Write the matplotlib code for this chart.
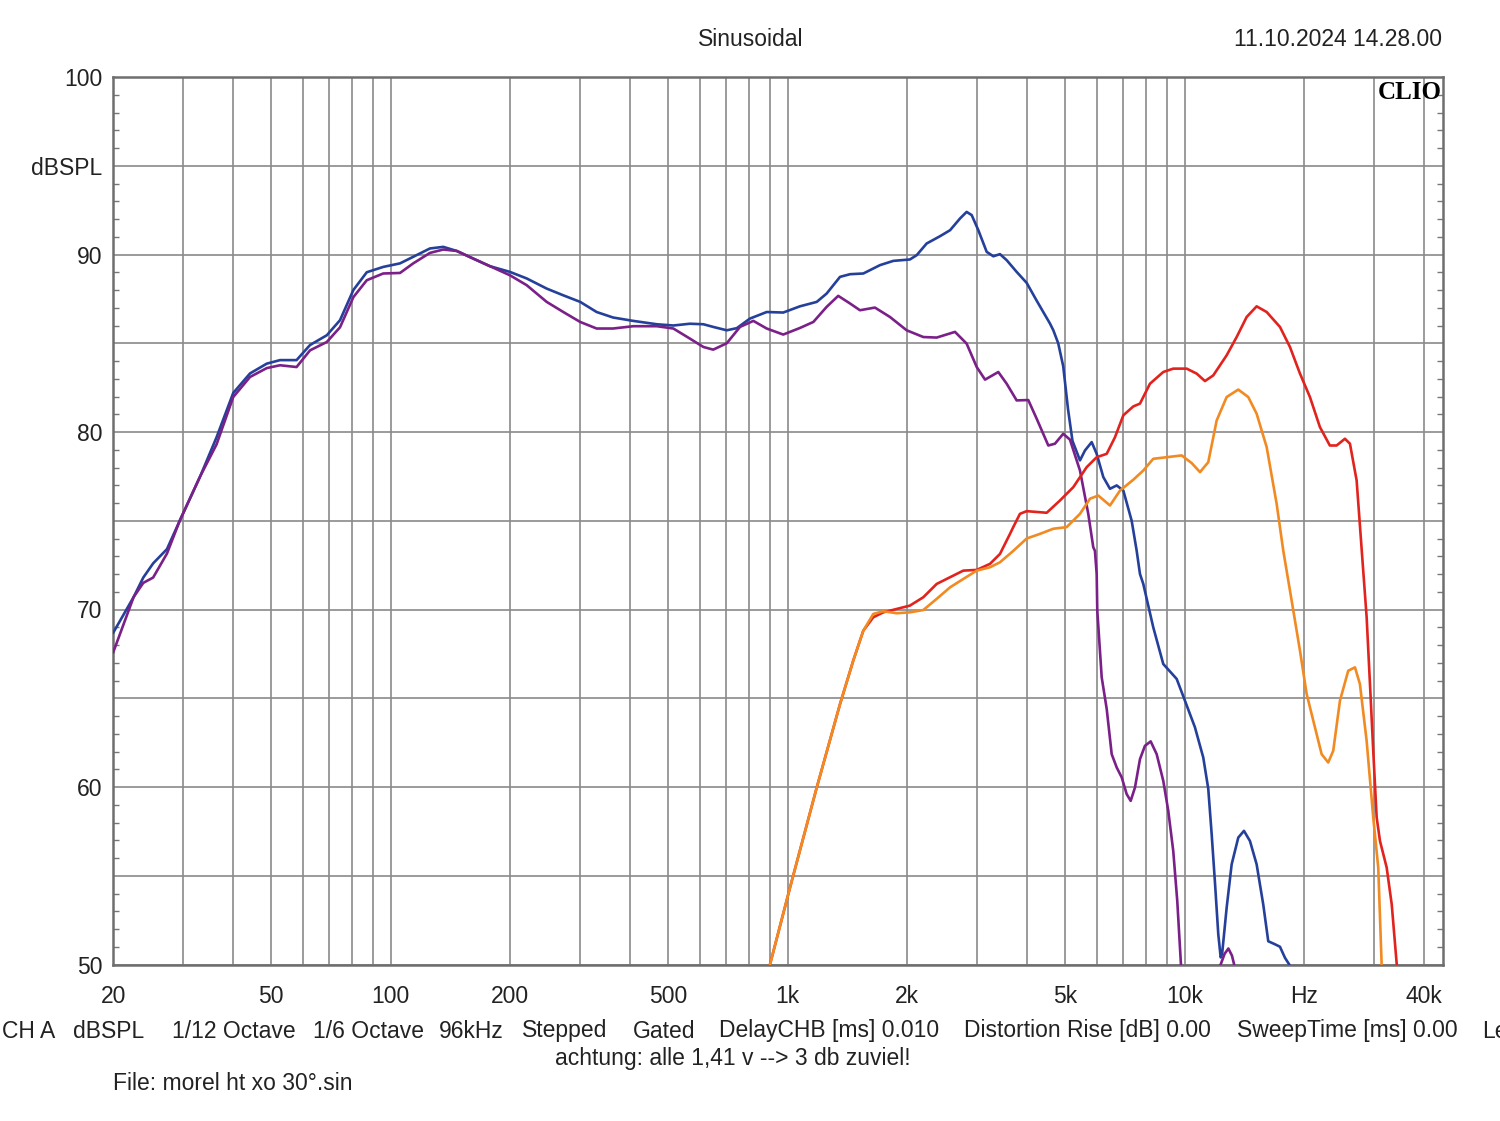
import matplotlib
matplotlib.use("Agg")
import matplotlib.pyplot as plt
from matplotlib.ticker import FixedLocator, FixedFormatter

plt.rcParams['font.family'] = ['Liberation Sans', 'DejaVu Sans']

# ---------------- data ----------------
blue_f = [20, 22.5, 23.8, 25.2, 27.3, 29.4, 33.1, 36.4, 40.1, 44.2, 48.7, 52.6, 57.9, 62.6, 69.0,
          74.5, 80.5, 87.0, 95.7, 105.5, 113.9, 125.5, 135.6, 146.6, 161.3, 177.8, 199.6, 220,
          247, 272, 300, 330, 363, 408, 468, 515, 567, 613, 649, 702, 744, 803, 885, 974, 1073,
          1183, 1253, 1354, 1435, 1550, 1707, 1844, 2031, 2112, 2238, 2418, 2564, 2716, 2822,
          2906, 3020, 3170, 3294, 3424, 3560, 3772, 3998, 4236, 4576, 4666, 4800, 4942, 5080,
          5214, 5446, 5606, 5829, 6000, 6235, 6481, 6739, 7003, 7350, 7565, 7713, 7862, 8330,
          8828, 9542, 10012, 10610, 11134, 11461, 11690, 11917, 12147, 12318, 12420, 12751,
          13126, 13640, 14098, 14596, 15174, 15766, 16231, 16874, 17371, 17882, 18332, 19000]
blue_db = [68.7, 70.7, 71.8, 72.6, 73.4, 75.0, 77.5, 79.7, 82.2, 83.3, 83.85, 84.05, 84.05, 84.9,
           85.45, 86.3, 88.0, 89.0, 89.3, 89.5, 89.87, 90.34, 90.43, 90.2, 89.77, 89.34, 89.02,
           88.65, 88.08, 87.7, 87.33, 86.76, 86.45, 86.26, 86.07, 86.0, 86.1, 86.07, 85.92, 85.73,
           85.85, 86.39, 86.76, 86.73, 87.08, 87.33, 87.8, 88.74, 88.89, 88.93, 89.4, 89.64,
           89.72, 89.96, 90.62, 91.03, 91.37, 92.03, 92.4, 92.22, 91.37, 90.15, 89.9, 90.02,
           89.68, 89.02, 88.4, 87.4, 86.11, 85.73, 85.0, 83.7, 81.3, 79.5, 78.4, 78.96, 79.43,
           78.77, 77.46, 76.8, 76.99, 76.7, 75.0, 73.32, 72.0, 71.44, 69.0, 66.93, 66.09, 64.86,
           63.36, 61.66, 59.9, 57.34, 54.6, 51.7, 50.4, 50.6, 53.2, 55.64, 57.15, 57.53, 56.96,
           55.64, 53.38, 51.31, 51.14, 51.0, 50.38, 50.0, 48.0]

purple_f = [20, 22.5, 23.8, 25.2, 27.3, 29.4, 33.1, 36.4, 40.1, 44.2, 48.7, 52.6, 57.9, 62.6, 69.0,
            74.5, 80.5, 87.0, 95.7, 105.5, 113.9, 125.5, 135.6, 146.6, 161.3, 177.8, 199.6, 220,
            247, 272, 300, 330, 363, 408, 468, 515, 567, 613, 649, 702, 758, 819, 885, 974, 1073,
            1160, 1253, 1340, 1435, 1520, 1658, 1809, 1993, 2195, 2372, 2638, 2822, 2992, 3140,
            3391, 3560, 3772, 4035, 4236, 4532, 4710, 4942, 5138, 5446, 5714, 5882, 5940, 6000,
            6021, 6177, 6359, 6546, 6739, 6938, 7140, 7308, 7492, 7713, 7938, 8207, 8497, 8828,
            9088, 9354, 9575, 9782, 10300, 12000, 12268, 12600, 12880, 13150, 13350, 14000]
purple_db = [67.6, 70.7, 71.5, 71.8, 73.15, 75.0, 77.5, 79.3, 81.97, 83.1, 83.6, 83.76, 83.66,
             84.6, 85.07, 85.9, 87.6, 88.55, 88.93, 88.96, 89.5, 90.09, 90.28, 90.2, 89.77, 89.34,
             88.83, 88.27, 87.33, 86.76, 86.2, 85.83, 85.83, 85.96, 85.96, 85.83, 85.26, 84.79,
             84.64, 85.0, 85.92, 86.26, 85.83, 85.49, 85.86, 86.2, 87.05, 87.67, 87.24, 86.86,
             87.01, 86.48, 85.73, 85.35, 85.32, 85.64, 84.98, 83.66, 82.95, 83.38, 82.72, 81.78,
             81.8, 80.75, 79.24, 79.34, 79.9, 79.57, 77.83, 75.39, 73.51, 73.3, 72.0, 69.94, 66.18,
             64.4, 61.85, 61.1, 60.54, 59.6, 59.22, 59.97, 61.57, 62.32, 62.57, 61.85, 60.35, 58.66,
             56.4, 53.58, 50.0, 45.0, 45.0, 49.9, 50.6, 50.9, 50.5, 49.9, 45.0]

red_f = [902, 1013, 1183, 1354, 1462, 1550, 1642, 1740, 1881, 2031, 2195, 2372, 2564, 2768, 2992,
         3231, 3424, 3629, 3698, 3845, 3998, 4490, 4849, 5238, 5662, 6000, 6359, 6673, 7003,
         7419, 7713, 8173, 8828, 9354, 10111, 10716, 11244, 11799, 12751, 13512, 14320, 15174,
         16082, 17371, 18408, 19510, 20670, 21900, 23200, 24130, 25320, 26070, 27100, 27900,
         28720, 29280, 29840, 30440, 31030, 32260, 33220, 34200]
red_db = [50.0, 54.33, 59.97, 64.67, 67.12, 68.81, 69.56, 69.84, 70.03, 70.22, 70.69, 71.44, 71.82,
          72.19, 72.23, 72.57, 73.13, 74.26, 74.64, 75.39, 75.54, 75.45, 76.14, 76.89, 78.02,
          78.58, 78.77, 79.71, 80.94, 81.44, 81.6, 82.72, 83.38, 83.57, 83.57, 83.29, 82.87,
          83.19, 84.32, 85.35, 86.48, 87.08, 86.76, 85.92, 84.79, 83.29, 81.97, 80.28, 79.24,
          79.24, 79.62, 79.34, 77.27, 73.4, 69.56, 65.8, 62.04, 58.28, 56.96, 55.46, 53.38, 50.0]

orange_f = [902, 1013, 1183, 1354, 1462, 1550, 1642, 1740, 1881, 2031, 2195, 2372, 2564, 2768,
            2992, 3231, 3424, 3698, 3998, 4318, 4666, 5040, 5446, 5771, 6056, 6481, 6869, 7419,
            7862, 8330, 9004, 9822, 10410, 10924, 11461, 12034, 12751, 13640, 14453, 15174,
            16082, 17042, 17706, 18590, 19510, 20280, 21280, 22120, 22980, 23660, 24600, 25810,
            26840, 27620, 28720, 29840, 30720, 31330]
orange_db = [50.0, 54.33, 59.97, 64.67, 67.12, 68.81, 69.75, 69.9, 69.79, 69.84, 69.97, 70.6,
             71.25, 71.72, 72.19, 72.38, 72.66, 73.3, 74.0, 74.26, 74.55, 74.64, 75.39, 76.24,
             76.42, 75.86, 76.7, 77.31, 77.83, 78.49, 78.58, 78.68, 78.25, 77.74, 78.3, 80.65,
             81.97, 82.39, 81.97, 81.03, 79.15, 75.95, 73.32, 70.5, 67.68, 65.24, 63.36, 61.85,
             61.38, 62.04, 64.86, 66.55, 66.74, 65.8, 62.6, 58.28, 55.46, 50.0]

grid_freqs = [20, 30, 40, 50, 60, 70, 80, 90, 100, 200, 300, 400, 500, 600, 700, 800, 900,
              1000, 2000, 3000, 4000, 5000, 6000, 7000, 8000, 9000, 10000, 20000, 30000, 40000]
x_label_map = {20: '20', 50: '50', 100: '100', 200: '200', 500: '500', 1000: '1k',
               2000: '2k', 5000: '5k', 10000: '10k', 20000: 'Hz', 40000: '40k'}
y_major = [50, 55, 60, 65, 70, 75, 80, 85, 90, 95, 100]
y_label_map = {100: '100', 95: 'dBSPL', 90: '90', 80: '80', 70: '70', 60: '60', 50: '50'}

title_text = 'Sinusoidal'
date_text = '11.10.2024 14.28.00'
info_items = [('CH A', 2), ('dBSPL', 73), ('1/12 Octave', 172), ('1/6 Octave', 313),
              ('96kHz', 439), ('Stepped', 522), ('Gated', 633), ('DelayCHB [ms] 0.010', 719),
              ('Distortion Rise [dB] 0.00', 964), ('SweepTime [ms] 0.00', 1237), ('Le', 1482)]
note_text = 'achtung: alle 1,41 v --> 3 db zuviel!'
file_text = 'File: morel ht xo 30°.sin'

# ---------------- figure ----------------
W, H = 1500, 1121
fig = plt.figure(figsize=(W / 100, H / 100), dpi=100)
ax = fig.add_axes([113.3 / W, 1 - 964.5 / H, (1443.3 - 113.3) / W, (964.5 - 77) / H])

ax.set_xscale('log')
ax.set_xlim(20, 44800)
ax.set_ylim(50, 100)

grid_col = '#8a8a8a'
ax.xaxis.set_major_locator(FixedLocator(grid_freqs))
ax.xaxis.set_major_formatter(FixedFormatter([x_label_map.get(f, '') for f in grid_freqs]))
ax.xaxis.set_minor_locator(FixedLocator([]))
ax.yaxis.set_major_locator(FixedLocator(y_major))
ax.yaxis.set_major_formatter(FixedFormatter([y_label_map.get(v, '') for v in y_major]))
ax.yaxis.set_minor_locator(FixedLocator(list(range(50, 101))))

ax.grid(True, which='major', color=grid_col, linewidth=1.2)
ax.tick_params(axis='x', which='major', length=0, pad=15, labelsize=16.5, labelcolor='#222222')
ax.tick_params(axis='y', which='major', length=0, pad=8, labelsize=16.5, labelcolor='#222222')
ax.tick_params(axis='y', which='minor', direction='in', length=4.5, width=1.0,
               color='#777777', left=True, right=True)
for s in ax.spines.values():
    s.set_color('#6e6e6e')
    s.set_linewidth(1.8)

lw = 1.9
ax.plot(blue_f, blue_db, color='#25409a', lw=lw, zorder=3)
ax.plot(purple_f, purple_db, color='#7a2088', lw=lw, zorder=3)
ax.plot(red_f, red_db, color='#e2231d', lw=lw, zorder=3)
ax.plot(orange_f, orange_db, color='#f28a22', lw=lw, zorder=3)

ax.text(0.9985, 0.9955, 'CLIO', transform=ax.transAxes, ha='right', va='top',
        fontsize=18, fontweight='bold', family=['Liberation Serif', 'DejaVu Serif'], zorder=5)


def px(x, y):
    return x / W, 1 - y / H


fs = 16.5
fig.text(*px(751, 39), title_text, ha='center', va='center', fontsize=fs, color='#222222')
fig.text(*px(1442, 39), date_text, ha='right', va='center', fontsize=fs, color='#222222')
for txt, xpos in info_items:
    fig.text(*px(xpos, 1031), txt, ha='left', va='center', fontsize=fs, color='#222222')
fig.text(*px(733, 1058), note_text, ha='center', va='center', fontsize=fs, color='#222222')
fig.text(*px(113, 1084), file_text, ha='left', va='center', fontsize=fs, color='#222222')

fig.savefig('out.png', dpi=100, facecolor='white')
